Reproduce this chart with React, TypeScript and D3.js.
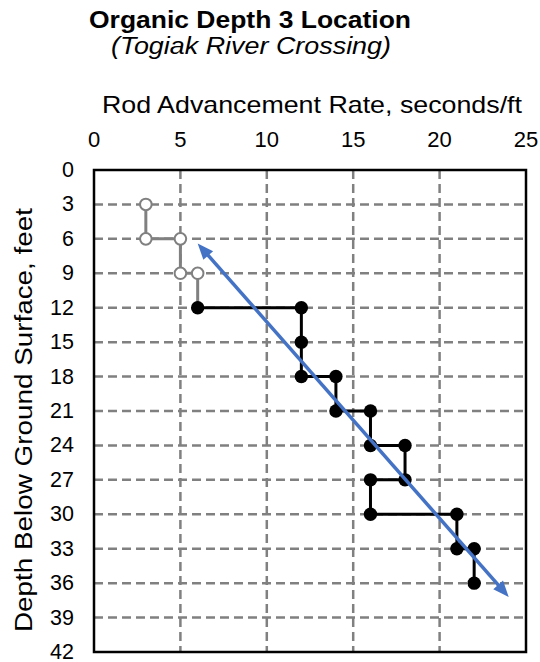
import React from 'react'
import { scaleLinear, line, range } from 'd3'

// rod advancement rate (seconds/ft) vs depth (ft)
const grayRate = [3, 3, 5, 5, 6, 6]
const grayDepth = [3, 6, 6, 9, 9, 12]
const blackRate = [6, 12, 12, 12, 14, 14, 16, 16, 18, 18, 16, 16, 21, 21, 22, 22]
const blackDepth = [12, 12, 15, 18, 18, 21, 21, 24, 24, 27, 27, 30, 30, 33, 33, 36]
const xTicks = [0, 5, 10, 15, 20, 25]
const yTicks = range(0, 43, 3)
// trend arrow ends [rate, depth]
const trendStart = [6.0, 6.4]
const trendEnd = [24.0, 37.2]

const W = 540, H = 662
const left = 94, right = 526, top = 170, bottom = 652
const font = 'Liberation Sans, Arial, sans-serif'

function arrowHead(tip: number[], from: number[], len = 16, half = 6.5) {
  const dx = tip[0] - from[0], dy = tip[1] - from[1]
  const d = Math.hypot(dx, dy)
  const ux = dx / d, uy = dy / d
  const bx = tip[0] - ux * len, by = tip[1] - uy * len
  return `M${tip[0]},${tip[1]}L${bx - uy * half},${by + ux * half}L${bx + uy * half},${by - ux * half}Z`
}

export default function App() {
  const x = scaleLinear().domain([0, 25]).range([left, right])
  const y = scaleLinear().domain([0, 42]).range([top, bottom])

  const path = line<number>()
  const grayPts = grayRate.map((r, i) => [x(r), y(grayDepth[i])] as [number, number])
  const blackPts = blackRate.map((r, i) => [x(r), y(blackDepth[i])] as [number, number])

  const a = [x(trendStart[0]), y(trendStart[1])]
  const b = [x(trendEnd[0]), y(trendEnd[1])]
  const dx = b[0] - a[0], dy = b[1] - a[1]
  const d = Math.hypot(dx, dy)
  const inset = 12
  const a2 = [a[0] + dx / d * inset, a[1] + dy / d * inset]
  const b2 = [b[0] - dx / d * inset, b[1] - dy / d * inset]

  return (
    <svg width={W} height={H} style={{ position: 'absolute', left: 0, top: 0, background: '#fff' }} fontFamily={font}>
      <rect width={W} height={H} fill="#fff" />
      <text x={89} y={28} fontSize={23} fontWeight="bold" textLength={322} lengthAdjust="spacingAndGlyphs" fill="#000">Organic Depth 3 Location</text>
      <text x={111} y={54} fontSize={23} fontStyle="italic" textLength={280} lengthAdjust="spacingAndGlyphs" fill="#000">(Togiak River Crossing)</text>
      <text x={102} y={113} fontSize={24} textLength={420} lengthAdjust="spacingAndGlyphs" fill="#000">Rod Advancement Rate, seconds/ft</text>

      {xTicks.map(t => (
        <text key={t} x={x(t)} y={147} fontSize={22} textAnchor="middle" fill="#000">{t}</text>
      ))}
      {yTicks.map(t => (
        <text key={t} x={74} y={y(t) + 7} fontSize={21.5} textAnchor="end" fill="#000">{t}</text>
      ))}
      <text transform={`translate(31.5,632) rotate(-90)`} fontSize={23} textLength={424} lengthAdjust="spacingAndGlyphs" fill="#000">Depth Below Ground Surface, feet</text>

      {/* grid */}
      {yTicks.filter(t => t > 0 && t < 42).map(t => (
        <line key={'h' + t} x1={left} x2={right} y1={y(t)} y2={y(t)} stroke="#808080" strokeWidth={2.5} strokeDasharray="9,5" />
      ))}
      {xTicks.filter(t => t > 0 && t < 25).map(t => (
        <line key={'v' + t} x1={x(t)} x2={x(t)} y1={top} y2={bottom} stroke="#808080" strokeWidth={2.5} strokeDasharray="9,5" />
      ))}
      <rect x={left} y={top} width={right - left} height={bottom - top} fill="none" stroke="#000" strokeWidth={2.5} />

      {/* series lines */}
      <path d={path(grayPts) || ''} fill="none" stroke="#808080" strokeWidth={3} />
      <path d={path(blackPts) || ''} fill="none" stroke="#000" strokeWidth={3} />

      {grayPts.slice(0, 5).map((p, i) => (
        <circle key={'g' + i} cx={p[0]} cy={p[1]} r={5.8} fill="#fff" stroke="#808080" strokeWidth={2} />
      ))}
      {blackPts.map((p, i) => (
        <circle key={'b' + i} cx={p[0]} cy={p[1]} r={6.7} fill="#000" />
      ))}

      {/* trend arrow */}
      <line x1={a2[0]} y1={a2[1]} x2={b2[0]} y2={b2[1]} stroke="#4472c4" strokeWidth={3.5} />
      <path d={arrowHead(a, b)} fill="#4472c4" />
      <path d={arrowHead(b, a)} fill="#4472c4" />
    </svg>
  )
}
